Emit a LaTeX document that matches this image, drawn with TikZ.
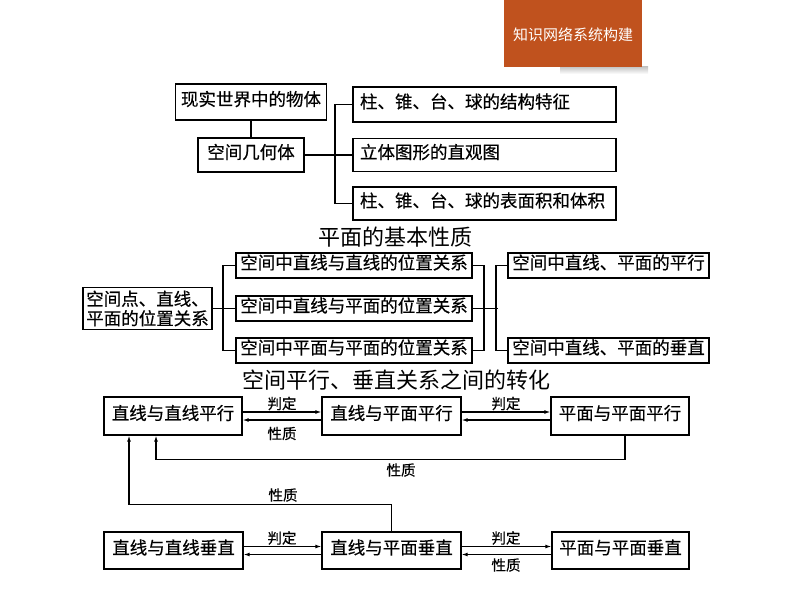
\documentclass[tikz,border=0pt]{standalone}
\usepackage{fontspec}
\setmainfont{Noto Sans CJK SC}
\newfontfamily\boxfont{Noto Sans CJK SC}[FakeBold=0.5]
\usetikzlibrary{arrows.meta}
\definecolor{hdr}{RGB}{192,82,30}
\begin{document}
\begin{tikzpicture}[x=1pt,y=-1pt,
  bx/.style={draw,line width=1.7pt,inner sep=0pt,font=\boxfont\fontsize{17.5}{19}\selectfont,text height=0.82em,text depth=0.08em},
  bxl/.style={bx,inner xsep=7pt,text width=249pt,align=left,minimum width=263pt},
  bx3/.style={bx,line width=1.4pt},
  conn/.style={line width=1.5pt},
  arr/.style={line width=1.1pt,-{Latex[length=6pt,width=4pt]}},
  lab/.style={font=\boxfont\fontsize{14.5}{15}\selectfont,inner sep=0pt},
  ttl/.style={font=\fontsize{22}{24}\selectfont,inner sep=0pt}
]
\useasboundingbox (0,0) rectangle (794,596);
% header
\shade[top color=black!22,bottom color=white] (560,67) rectangle (648,74);
\node[fill=hdr,minimum width=138pt,minimum height=67pt,anchor=north west,inner sep=0pt] (hd) at (504,0) {};
\node[text=white,font=\fontsize{15}{16}\selectfont,inner sep=0pt] (hdt) at (573,35) {知识网络系统构建};
% section 1
\node[bx,minimum width=151pt,minimum height=36pt] (a1) at (251,102) {现实世界中的物体};
\node[bx,minimum width=106pt,minimum height=34pt] (a2) at (251,155) {空间几何体};
\node[bxl,minimum height=35pt] (b1) at (484.5,104.5) {柱、锥、台、球的结构特征};
\node[bxl,minimum height=33pt] (b2) at (484.5,155) {立体图形的直观图};
\node[bxl,minimum height=33pt] (b3) at (484.5,203.5) {柱、锥、台、球的表面积和体积};
\draw[conn] (a1.south) -- (a2.north);
\draw[conn] (a2.east) -- (b2.west);
\draw[conn] (b1.west) -- ++(-17,0) |- (b3.west);
% section 2
\node[ttl] (t1) at (395,237) {平面的基本性质};
\node[bx,minimum width=129pt,minimum height=42pt,text width=122.5pt,inner xsep=3.25pt,align=left,text height=,text depth=,font=\boxfont\fontsize{17.5}{19.5}\selectfont] (c0) at (147.5,308.5) {空间点、直线、\\平面的位置关系};
\node[bx,minimum width=236pt,minimum height=25pt] (d1) at (354,265.5) {空间中直线与直线的位置关系};
\node[bx,minimum width=236pt,minimum height=25pt] (d2) at (354,308.5) {空间中直线与平面的位置关系};
\node[bx,minimum width=236pt,minimum height=25pt] (d3) at (354,350.5) {空间中平面与平面的位置关系};
\node[bx,minimum width=201pt,minimum height=25pt] (e1) at (608.5,265.5) {空间中直线、平面的平行};
\node[bx,minimum width=201pt,minimum height=25pt] (e2) at (608.5,350.5) {空间中直线、平面的垂直};
\draw[conn,line width=1.7pt] (c0.east) -- (d2.west);
\draw[conn,line width=1.7pt] (d1.west) -- ++(-12,0) |- (d3.west);
\draw[conn,line width=1.7pt] (d1.east) -- ++(11,0) |- (d3.east);
\draw[conn,line width=1.7pt] (d2.east) -- ++(25,0) coordinate (k);
\draw[conn,line width=1.7pt] (e1.west) -- ++(-11,0) |- (e2.west);
% section 3
\node[ttl] (t2) at (396,380) {空间平行、垂直关系之间的转化};
\node[bx3,minimum width=138pt,minimum height=38pt] (p1) at (173,416) {直线与直线平行};
\node[bx3,minimum width=139pt,minimum height=38pt] (p2) at (391.5,416) {直线与平面平行};
\node[bx3,minimum width=138pt,minimum height=38pt] (p3) at (620,416) {平面与平面平行};
\node[bx3,minimum width=139pt,minimum height=37pt] (v1) at (173.5,550.5) {直线与直线垂直};
\node[bx3,minimum width=139pt,minimum height=37pt] (v2) at (391.5,550.5) {直线与平面垂直};
\node[bx3,minimum width=137pt,minimum height=37pt] (v3) at (620.5,550.5) {平面与平面垂直};
\draw[arr] ([yshift=4pt]p1.east) -- ([yshift=4pt]p2.west);
\draw[arr] ([yshift=-4pt]p2.west) -- ([yshift=-4pt]p1.east);
\draw[arr] ([yshift=4pt]p2.east) -- ([yshift=4pt]p3.west);
\draw[arr] ([yshift=-4pt]p3.west) -- ([yshift=-4pt]p2.east);
\draw[arr] ([yshift=4pt]v1.east) -- ([yshift=4pt]v2.west);
\draw[arr] ([yshift=-4pt]v2.west) -- ([yshift=-4pt]v1.east);
\draw[arr] ([yshift=4pt]v2.east) -- ([yshift=4pt]v3.west);
\draw[arr] ([yshift=-4pt]v3.west) -- ([yshift=-4pt]v2.east);
\draw[arr] ([xshift=5pt]p3.south) -- ++(0,24) -| ([xshift=-17pt]p1.south);
\draw[arr] (v2.north) -- ++(0,-27) -| ([xshift=-44pt]p1.south);
\node[lab] (l1) at (282,403.5) {判定};
\node[lab] (l2) at (282,433.5) {性质};
\node[lab] (l3) at (506,403.5) {判定};
\node[lab] (l4) at (282,538) {判定};
\node[lab] (l5) at (506,538) {判定};
\node[lab] (l6) at (506,565) {性质};
\node[lab] (l7) at (401,470) {性质};
\node[lab] (l8) at (283,495) {性质};
\end{tikzpicture}
\end{document}
